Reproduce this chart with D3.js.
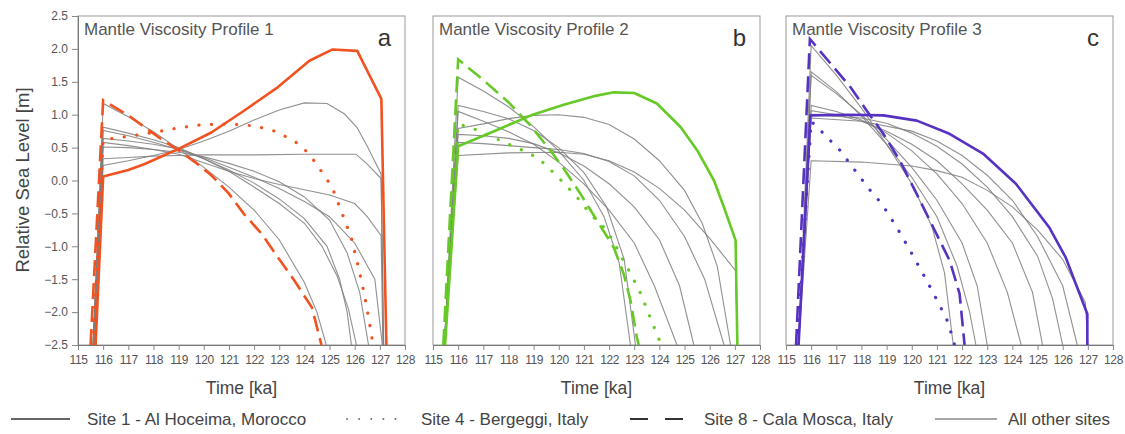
<!DOCTYPE html>
<html>
<head>
<meta charset="utf-8">
<script src="https://cdn.jsdelivr.net/npm/d3@7"></script>
<style>
  body { margin: 0; background: #fff; }
  svg { display: block; font-family: "Liberation Sans", Arial, sans-serif; }
</style>
</head>
<body>
<svg id="chart" width="1125" height="434"></svg>
<script>
// time ticks and sea level ticks
var timeTicks = [115, 116, 117, 118, 119, 120, 121, 122, 123, 124, 125, 126, 127, 128];
var levelTicks = [2.5, 2.0, 1.5, 1.0, 0.5, 0.0, -0.5, -1.0, -1.5, -2.0, -2.5];

var panelTitles = ["Mantle Viscosity Profile 1", "Mantle Viscosity Profile 2", "Mantle Viscosity Profile 3"];
var panelLetters = ["a", "b", "c"];
var panelColors = ["#f2521f", "#66c925", "#5631c2"];

// ---- panel a : [time ka, RSL m]
var site1A = [[115.7,-2.5],[116,0.06],[117,0.16],[117.65,0.25],[119,0.48],[120.3,0.73],[121.6,1.06],[122.95,1.42],[124.2,1.82],[125.1,1.99],[126.1,1.97],[127.06,1.24],[127.26,-2.5]];
var site4A = [[115.6,-2.5],[116,0.62],[117,0.67],[118,0.73],[119,0.8],[120,0.85],[121,0.86],[122,0.83],[122.75,0.76],[123.3,0.66],[123.75,0.56],[124.15,0.42],[124.5,0.24],[124.8,0.07],[125.1,-0.1],[125.5,-0.5],[125.87,-0.88],[126.13,-1.29],[126.37,-1.7],[126.57,-2.12],[126.73,-2.5]];
var site8A = [[115.5,-2.5],[116,1.22],[117,0.99],[118.3,0.63],[119,0.46],[119.65,0.28],[120.3,0.08],[121,-0.2],[121.6,-0.51],[122.3,-0.81],[122.95,-1.17],[123.6,-1.52],[124.3,-1.93],[124.68,-2.5]];
var othersA = [
  [[115.65,-2.5],[116,0.23],[117,0.3],[118,0.38],[119,0.47],[120,0.6],[121,0.75],[122,0.92],[123,1.07],[124,1.18],[124.9,1.17],[125.6,1.01],[126.1,0.8],[126.5,0.52],[127.05,0.1],[127.15,-2.5]],
  [[115.65,-2.5],[116,0.33],[117,0.35],[118,0.37],[119,0.38],[120,0.39],[122,0.39],[124,0.4],[126.05,0.4],[126.5,0.25],[127.05,0.03],[127.15,-2.5]],
  [[115.65,-2.5],[116,0.58],[117,0.53],[118,0.47],[119,0.4],[120,0.27],[121,0.14],[122,0.03],[123,-0.06],[124,-0.14],[125,-0.22],[126,-0.35],[126.5,-0.55],[127.05,-0.84],[127.12,-2.5]],
  [[115.6,-2.5],[116,0.81],[117,0.72],[118,0.62],[119,0.5],[120,0.33],[121,0.14],[122,-0.1],[123,-0.35],[124,-0.65],[124.7,-1.0],[125.3,-1.45],[125.75,-1.95],[126.07,-2.5]],
  [[115.6,-2.5],[116,1.17],[117,0.97],[118,0.74],[119,0.48],[120,0.2],[121,-0.1],[122,-0.45],[123,-0.9],[124,-1.55],[124.5,-2.0],[124.87,-2.5]],
  [[115.6,-2.5],[116,0.76],[117,0.68],[118,0.58],[119,0.47],[120,0.33],[121,0.16],[122,-0.04],[123,-0.28],[124,-0.58],[124.9,-1.0],[125.4,-1.5],[125.7,-2.0],[125.87,-2.5]],
  [[115.6,-2.5],[116,0.51],[117,0.5],[118,0.47],[119,0.43],[120,0.36],[121,0.26],[122,0.14],[123,-0.02],[124,-0.25],[125,-0.6],[125.7,-1.1],[126.2,-1.7],[126.55,-2.5]],
  [[115.6,-2.5],[116,0.64],[117,0.6],[118,0.55],[119,0.48],[120,0.35],[121,0.2],[122,0.05],[123,-0.12],[124,-0.32],[125,-0.55],[126,-0.95],[126.8,-1.5],[127.1,-2.5]]
];

// ---- panel b
var site1B = [[115.48,-2.5],[116,0.52],[117.5,0.76],[118.9,0.99],[120.2,1.15],[121.5,1.29],[122.2,1.34],[123,1.33],[123.9,1.17],[124.85,0.81],[125.5,0.46],[126.17,0.0],[126.57,-0.41],[127.03,-0.91],[127.1,-2.5]];
var site4B = [[115.45,-2.5],[116,0.86],[116.6,0.79],[117.6,0.62],[118.13,0.53],[118.67,0.44],[119.13,0.35],[119.5,0.23],[120.1,0.0],[120.72,-0.25],[121.26,-0.51],[121.79,-0.71],[122.12,-0.89],[122.65,-1.27],[123.18,-1.65],[123.58,-2.03],[123.98,-2.41],[124.08,-2.5]];
var site8B = [[115.41,-2.5],[116,1.84],[116.87,1.57],[118,1.19],[118.86,0.84],[119.66,0.46],[120.2,0.18],[120.86,-0.2],[121.52,-0.61],[122.18,-1.01],[122.58,-1.42],[122.85,-1.82],[123.1,-2.38],[123.18,-2.5]];
var othersB = [
  [[115.45,-2.5],[116,1.57],[117,1.36],[118,1.12],[119,0.82],[120,0.45],[121,0.0],[121.8,-0.55],[122.4,-1.25],[122.85,-2.5]],
  [[115.45,-2.5],[116,1.14],[117,1.05],[118,0.94],[119,0.76],[120,0.5],[121,0.12],[121.9,-0.4],[122.6,-1.2],[123.05,-2.5]],
  [[115.45,-2.5],[116,0.79],[117,0.86],[118,0.94],[119,0.99],[120,1.0],[121,0.96],[122,0.85],[123,0.63],[124,0.3],[125,-0.15],[125.7,-0.65],[126.3,-1.3],[126.83,-2.5]],
  [[115.45,-2.5],[116,0.58],[117,0.56],[118,0.53],[119,0.5],[120,0.47],[121,0.41],[122,0.29],[123,0.07],[124,-0.3],[125,-0.85],[125.8,-1.5],[126.57,-2.5]],
  [[115.45,-2.5],[116,0.38],[118,0.42],[120,0.43],[121,0.4],[122,0.3],[123,0.13],[124,-0.12],[125,-0.45],[126,-0.88],[127.03,-1.37],[127.1,-2.5]],
  [[115.45,-2.5],[116,1.05],[117,0.9],[118,0.74],[119,0.55],[120,0.28],[121,-0.05],[122,-0.45],[123,-0.95],[123.8,-1.6],[124.7,-2.5]],
  [[115.45,-2.5],[116,0.7],[117,0.68],[118,0.64],[119,0.56],[120,0.42],[121,0.22],[122,-0.05],[123,-0.4],[124,-0.9],[124.8,-1.6],[125.37,-2.5]]
];

// ---- panel c
var site1C = [[115.5,-2.5],[115.97,0.99],[117.5,1.0],[118.87,0.99],[120.2,0.91],[121.5,0.71],[122.83,0.41],[124.14,-0.05],[125.46,-0.71],[126.12,-1.17],[126.98,-2.03],[126.98,-2.5]];
var site4C = [[115.45,-2.5],[116,0.9],[116.3,0.79],[116.7,0.63],[117.1,0.48],[117.75,0.15],[118.41,-0.18],[118.8,-0.35],[119.4,-0.71],[119.93,-1.06],[120.45,-1.42],[120.98,-1.8],[121.44,-2.15],[121.7,-2.5]];
var site8C = [[115.4,-2.5],[115.95,2.15],[116.9,1.72],[117.56,1.42],[118.21,1.06],[118.87,0.71],[119.53,0.3],[120.19,-0.2],[120.85,-0.71],[121.51,-1.22],[121.9,-1.72],[122.1,-2.5]];
var othersC = [
  [[115.5,-2.5],[116,2.05],[117,1.6],[118,1.1],[119,0.55],[120,-0.05],[120.8,-0.7],[121.3,-1.4],[121.65,-2.5]],
  [[115.5,-2.5],[116,1.65],[117,1.35],[118,0.98],[119,0.55],[120,0.05],[121,-0.55],[121.8,-1.3],[122.3,-2.0],[122.55,-2.5]],
  [[115.5,-2.5],[116,1.6],[117,1.32],[118,1.0],[119,0.62],[120,0.2],[121,-0.3],[122,-0.95],[122.6,-1.6],[123.0,-2.5]],
  [[115.5,-2.5],[116,1.14],[117,1.05],[118,0.92],[119,0.72],[120,0.45],[121,0.1],[122,-0.35],[123,-0.95],[123.8,-1.7],[124.35,-2.5]],
  [[115.5,-2.5],[116,1.06],[117,1.0],[118,0.9],[119,0.75],[120,0.55],[121,0.3],[122,-0.05],[123,-0.45],[124,-0.95],[124.8,-1.7],[125.2,-2.5]],
  [[115.5,-2.5],[116,1.0],[118,0.95],[119,0.87],[120,0.72],[121,0.52],[122,0.25],[123,-0.1],[124,-0.55],[125,-1.15],[125.6,-1.8],[126.0,-2.5]],
  [[115.5,-2.5],[116,0.95],[118,0.9],[120,0.75],[121,0.6],[122,0.38],[123,0.08],[124,-0.3],[125,-0.85],[126,-1.6],[126.58,-2.5]],
  [[115.5,-2.5],[116,0.3],[118,0.28],[120,0.22],[121,0.15],[122,0.05],[123,-0.15],[124,-0.4],[125,-0.75],[126,-1.2],[126.9,-1.85],[127.0,-2.5]]
];

var panels = [
  {s1: site1A, s4: site4A, s8: site8A, others: othersA},
  {s1: site1B, s4: site4B, s8: site8B, others: othersB},
  {s1: site1C, s4: site4C, s8: site8C, others: othersC}
];

var legendItems = ["Site 1 - Al Hoceima, Morocco", "Site 4 - Bergeggi, Italy", "Site 8 - Cala Mosca, Italy", "All other sites"];

var svg = d3.select("#chart");
var lefts = [78, 433, 786];
var pw = 327, plotTop = 16, plotBottom = 345;

var y = d3.scaleLinear().domain([-2.5, 2.5]).range([plotBottom, plotTop]);

panels.forEach(function (p, i) {
    var x = d3.scaleLinear().domain([115, 128]).range([lefts[i], lefts[i] + pw]);
    var g = svg.append("g");
    var color = panelColors[i];

    g.append("clipPath").attr("id", "clip" + i)
        .append("rect").attr("x", lefts[i]).attr("y", plotTop).attr("width", pw).attr("height", plotBottom - plotTop);

    // frame
    g.append("rect").attr("x", lefts[i]).attr("y", plotTop).attr("width", pw).attr("height", plotBottom - plotTop)
        .attr("fill", "none").attr("stroke", "#9a9a9a").attr("stroke-width", 1);

    // x axis
    var xa = g.append("g").attr("transform", "translate(0," + plotBottom + ")")
        .call(d3.axisBottom(x).tickValues(timeTicks).tickSize(5).tickPadding(5).tickFormat(d3.format("d")));
    xa.select(".domain").attr("stroke", "#777");
    xa.selectAll(".tick line").attr("stroke", "#888");
    xa.selectAll("text").attr("fill", "#555").style("font-size", "12px").attr("letter-spacing", "-0.4");

    if (i === 0) {
        var ya = g.append("g").attr("transform", "translate(" + lefts[i] + ",0)")
            .call(d3.axisLeft(y).tickValues(levelTicks).tickSize(6).tickPadding(4).tickFormat(d3.format(".1f")));
        ya.select(".domain").attr("stroke", "#777");
        ya.selectAll(".tick line").attr("stroke", "#888");
        ya.selectAll("text").attr("fill", "#555").style("font-size", "12px");
    }

    var line = d3.line().x(function (d) { return x(d[0]); }).y(function (d) { return y(d[1]); });
    var plot = g.append("g").attr("clip-path", "url(#clip" + i + ")");

    plot.selectAll(".other").data(p.others).enter().append("path")
        .attr("d", line).attr("fill", "none")
        .attr("stroke", "#7c7c7c").attr("stroke-width", 1.1).attr("stroke-opacity", 0.85);

    plot.append("path").attr("d", line(p.s4)).attr("fill", "none")
        .attr("stroke", color).attr("stroke-width", 3.2)
        .attr("stroke-linecap", "round").attr("stroke-dasharray", "0.1 12.5");
    plot.append("path").attr("d", line(p.s8)).attr("fill", "none")
        .attr("stroke", color).attr("stroke-width", 2.6).attr("stroke-dasharray", "16 7");
    plot.append("path").attr("d", line(p.s1)).attr("fill", "none")
        .attr("stroke", color).attr("stroke-width", 2.6).attr("stroke-linejoin", "round");

    g.append("text").attr("x", lefts[i] + 6).attr("y", 35)
        .attr("fill", "#555").style("font-size", "17px").text(panelTitles[i]);
    g.append("text").attr("x", lefts[i] + pw - 14).attr("y", 46).attr("text-anchor", "end")
        .attr("fill", "#333").style("font-size", "24px").text(panelLetters[i]);
    g.append("text").attr("x", lefts[i] + pw / 2).attr("y", 394).attr("text-anchor", "middle")
        .attr("fill", "#444").style("font-size", "17.5px").text("Time [ka]");
});

svg.append("text").attr("transform", "translate(29,180) rotate(-90)").attr("text-anchor", "middle")
    .attr("fill", "#444").style("font-size", "18.5px").text("Relative Sea Level [m]");

// legend
var ly = 419;
var leg = svg.append("g");
leg.append("line").attr("x1", 11).attr("x2", 70).attr("y1", ly).attr("y2", ly)
    .attr("stroke", "#333").attr("stroke-width", 1.6);
leg.append("line").attr("x1", 347).attr("x2", 407).attr("y1", ly).attr("y2", ly)
    .attr("stroke", "#777").attr("stroke-width", 2).attr("stroke-linecap", "round").attr("stroke-dasharray", "0.1 12");
leg.append("line").attr("x1", 630).attr("x2", 686).attr("y1", ly).attr("y2", ly)
    .attr("stroke", "#333").attr("stroke-width", 2.2).attr("stroke-dasharray", "18 17");
leg.append("line").attr("x1", 935).attr("x2", 997).attr("y1", ly).attr("y2", ly)
    .attr("stroke", "#8a8a8a").attr("stroke-width", 1.6);
var textX = [87, 421, 704, 1008];
leg.selectAll(".lt").data(legendItems).enter().append("text")
    .attr("x", function (d, k) { return textX[k]; }).attr("y", 425)
    .attr("fill", "#444").style("font-size", "17px").text(function (d) { return d; });
</script>
</body>
</html>
